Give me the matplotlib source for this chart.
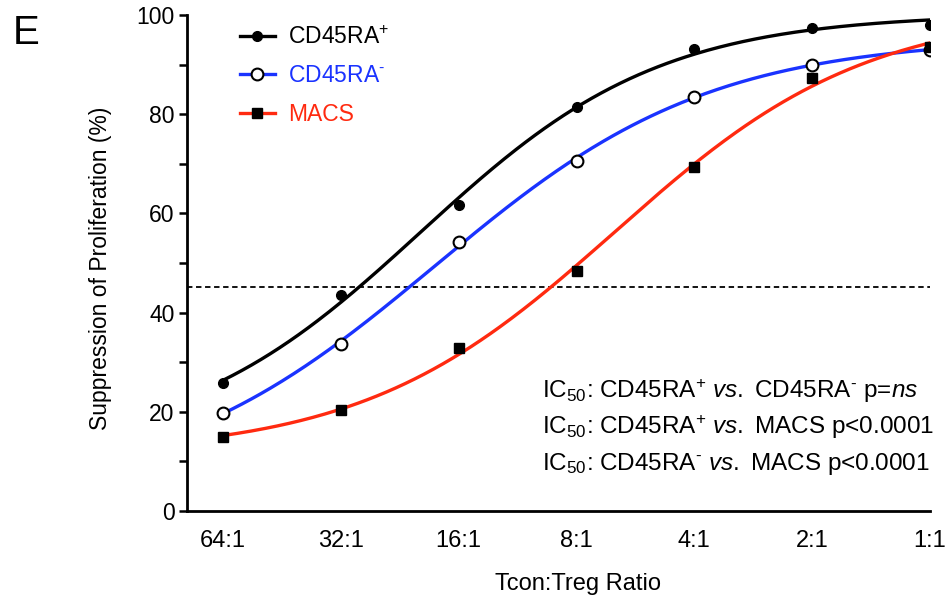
import numpy as np
import matplotlib
matplotlib.use("Agg")
import matplotlib.pyplot as plt

plt.rcParams['font.family'] = ['Liberation Sans', 'DejaVu Sans']
plt.rcParams['mathtext.fontset'] = 'custom'
plt.rcParams['mathtext.rm'] = 'Liberation Sans'
plt.rcParams['mathtext.it'] = 'Liberation Sans:italic'

ratios = ['64:1', '32:1', '16:1', '8:1', '4:1', '2:1', '1:1']
cd45ra_pos = [25.8, 43.5, 61.7, 81.5, 93.1, 97.4, 98.0]
cd45ra_neg = [19.8, 33.7, 54.2, 70.6, 83.5, 89.9, 93.0]
macs = [14.9, 20.4, 32.9, 48.4, 69.4, 87.3, 93.5]
cutoff = 45.2


def fit_sigmoid(x, y):
    # 4-parameter logistic on log2 scale, grid search over midpoint/slope
    y = np.asarray(y, float)
    x0s = np.linspace(-2, 8, 401)[:, None, None]
    ks = np.linspace(0.1, 3, 300)[None, :, None]
    s = 1 / (1 + np.exp(-ks * (x[None, None, :] - x0s)))
    a = 1 - s
    saa, sab, sbb = (a * a).sum(-1), (a * s).sum(-1), (s * s).sum(-1)
    say, sby = (a * y).sum(-1), (s * y).sum(-1)
    det = saa * sbb - sab ** 2
    bot = (sbb * say - sab * sby) / det
    top = (saa * sby - sab * say) / det
    res = ((y - bot[..., None] * a - top[..., None] * s) ** 2).sum(-1)
    i, j = np.unravel_index(np.argmin(res), res.shape)
    return bot[i, j], top[i, j], x0s[i, 0, 0], ks[0, j, 0]


x = np.arange(len(ratios))
xs = np.linspace(0, len(ratios) - 1, 300)

fig, ax = plt.subplots(figsize=(9.49, 5.96), dpi=100)
fig.subplots_adjust(left=0.197, right=0.980, bottom=0.1426, top=0.975)

neg = r'$^{‐}$'
pos = r'$^{+}$'
series = [
    (cd45ra_pos, 'black', dict(marker='o', ms=7, mfc='black', mec='black'), 'CD45RA' + pos),
    (cd45ra_neg, '#1a33ff', dict(marker='o', ms=8.5, mfc='white', mec='black', mew=1.5), 'CD45RA' + neg),
    (macs, '#ff2a10', dict(marker='s', ms=7.5, mfc='black', mec='black'), 'MACS'),
]

ax.axhline(cutoff, color='black', lw=1.3, ls=(0, (3, 2)), zorder=1)

handles = []
for y, col, mk, lab in series:
    b, t, x0, k = fit_sigmoid(x, y)
    ax.plot(xs, b + (t - b) / (1 + np.exp(-k * (xs - x0))), color=col, lw=2.4, zorder=2)
    ax.plot(x, y, ls='none', zorder=3, **mk)
    h, = ax.plot([], [], color=col, lw=2.4, **mk)
    handles.append(h)

leg = ax.legend(handles, [s[3] for s in series], loc='upper left', bbox_to_anchor=(0.043, 1.02),
                frameon=False, fontsize=16.5, handlelength=1.55, handletextpad=0.55, labelspacing=0.68)
for txt, s in zip(leg.get_texts(), series):
    txt.set_color(s[1])

ax.set_xlim(-0.306, 6)
ax.set_ylim(0, 100)
ax.set_xticks(x)
ax.set_xticklabels(ratios)
ax.set_yticks(np.arange(0, 101, 20))
ax.set_yticks(np.arange(10, 100, 20), minor=True)
ax.tick_params(axis='x', length=0, pad=14, labelsize=17)
ax.tick_params(axis='y', which='major', length=6, width=1.8, direction='out', labelsize=16.5, pad=3)
ax.tick_params(axis='y', which='minor', length=6, width=1.8, direction='out')
for sp in ['top', 'right']:
    ax.spines[sp].set_visible(False)
for sp in ['left', 'bottom']:
    ax.spines[sp].set_linewidth(2.0)

ax.set_ylabel('Suppression of Proliferation (%)', fontsize=16.5, va='center')
ax.yaxis.set_label_coords(-0.117, 0.49)
ax.set_xlabel('Tcon:Treg Ratio', fontsize=17, va='top')
ax.xaxis.set_label_coords(0.526, -0.125)

notes = [
    r'IC$_{50}$: CD45RA' + pos + r' $\it{vs.}$ CD45RA' + neg + r' p=$\it{ns}$',
    r'IC$_{50}$: CD45RA' + pos + r' $\it{vs.}$ MACS p<0.0001',
    r'IC$_{50}$: CD45RA' + neg + r' $\it{vs.}$ MACS p<0.0001',
]
for i, n in enumerate(notes):
    ax.text(0.478, 0.242 - i * 0.0735, n, transform=ax.transAxes, fontsize=17.5, ha='left', va='center')

fig.text(0.013, 0.945, 'E', fontsize=29, ha='left', va='center')

fig.savefig('out.png', dpi=100)
